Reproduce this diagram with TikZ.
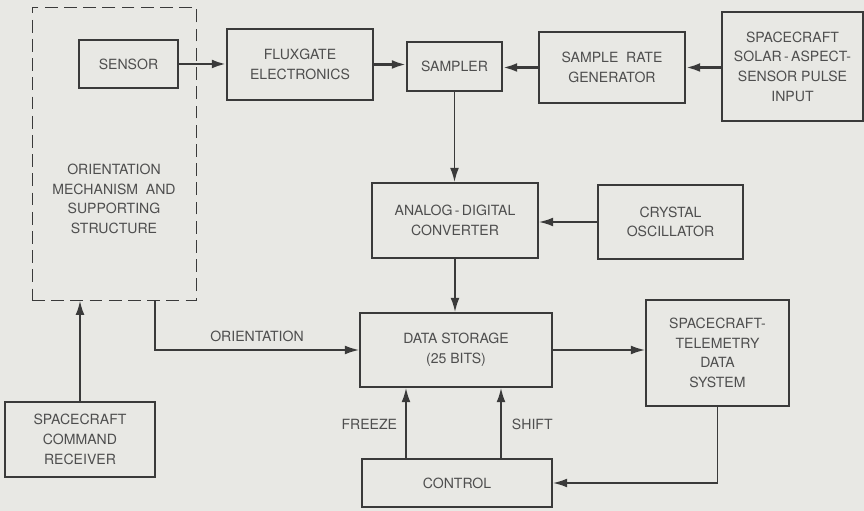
\documentclass[tikz,border=0pt]{standalone}
\usepackage{fontspec}
\setmainfont{TeX Gyre Heros}
\usepackage{tikz}
\usetikzlibrary{arrows.meta,positioning,calc}
\definecolor{paper}{RGB}{232,232,228}
\definecolor{ink}{RGB}{58,58,58}
\definecolor{txt}{RGB}{78,78,78}

\begin{document}
\begin{tikzpicture}[
  x=0.025cm, y=-0.025cm,
  every node/.style={font=\fontsize{10}{14}\selectfont, text=txt},
  blk/.style={draw=ink, line width=0.9pt, align=center, inner sep=0pt},
  dashblk/.style={blk, line width=0.6pt, dash pattern=on 3.2mm off 1.6mm},
  arr/.style={draw=ink, line width=1.4pt, -{Latex[length=3.6mm,width=2.2mm]}},
  thickarr/.style={arr, line width=1.9pt},
]

% ---- page ----
\fill[paper] (0,0) rectangle (864,511);
\useasboundingbox (0,0) rectangle (864,511);

% ---- top row ----
\node[dashblk, minimum width=164*0.025cm, minimum height=293*0.025cm] (orient) at (114,153.5) {};
\node[align=center] (orienttxt) at (114,199) {ORIENTATION\\MECHANISM\ \ AND\\SUPPORTING\\STRUCTURE};
\node[blk, minimum width=99*0.025cm, minimum height=48*0.025cm] (sensor) at (128.5,64) {SENSOR};
\node[blk, minimum width=146*0.025cm, minimum height=71*0.025cm] (flux) at (300,64.5) {FLUXGATE\\ELECTRONICS};
\node[blk, minimum width=95*0.025cm, minimum height=49*0.025cm] (samp) at (454.5,66.5) {SAMPLER};
\node[blk, minimum width=146*0.025cm, minimum height=71*0.025cm] (srg) at (612,67.5) {SAMPLE\ \ RATE\\GENERATOR};
\node[blk, minimum width=141*0.025cm, minimum height=109*0.025cm] (solar) at (792.5,66.5)
  {SPACECRAFT\\SOLAR\,-\,ASPECT-\\SENSOR PULSE\\INPUT};

% ---- middle row ----
\node[blk, minimum width=166*0.025cm, minimum height=75*0.025cm] (adc) at (455,220.5) {ANALOG\,-\,DIGITAL\\CONVERTER};
\node[blk, minimum width=145*0.025cm, minimum height=74*0.025cm] (xtal) at (670.5,222) {CRYSTAL\\OSCILLATOR};

% ---- bottom rows ----
\node[blk, minimum width=192*0.025cm, minimum height=74*0.025cm] (store) at (456,350) {DATA STORAGE\\(25 BITS)};
\node[blk, minimum width=143*0.025cm, minimum height=106*0.025cm] (tlm) at (717.5,353)
  {SPACECRAFT-\\TELEMETRY\\DATA\\SYSTEM};
\node[blk, minimum width=190*0.025cm, minimum height=48*0.025cm] (ctrl) at (457,483) {CONTROL};
\node[blk, minimum width=150*0.025cm, minimum height=75*0.025cm] (cmd) at (80,439.5) {SPACECRAFT\\COMMAND\\RECEIVER};

% ---- helper columns ----
\coordinate (ox) at (155,0);
\coordinate (fz) at (406,0);
\coordinate (sh) at (501,0);

% ---- signal path ----
\draw[thickarr] (sensor.east) -- (sensor.east -| flux.west);
\draw[thickarr] (flux.east) -- (flux.east -| samp.west);
\draw[thickarr] (srg.west) -- (srg.west -| samp.east);
\draw[thickarr] (solar.west |- srg.east) -- (srg.east);
\draw[arr] (samp.south) -- (samp.south |- adc.north);
\draw[arr] (xtal.west) -- (xtal.west -| adc.east);
\draw[arr] (adc.south) -- (adc.south |- store.north);
\draw[arr] (store.east) -- (store.east -| tlm.west);
\draw[arr] (tlm.south) |- (ctrl.east);

% ---- orientation and commands ----
\draw[arr] (orient.south -| ox) |- (store.west);
\node (orientlbl) at (257,336) {ORIENTATION};
\draw[arr] (cmd.north) -- (cmd.north |- orient.south);

% ---- control lines ----
\draw[arr] (ctrl.north -| fz) -- (fz |- store.south);
\node[anchor=east] (fzlbl) at (402,424) {FREEZE};
\draw[arr] (ctrl.north -| sh) -- (sh |- store.south);
\node[anchor=west] (shlbl) at (507,424) {SHIFT};

\end{tikzpicture}
\end{document}
